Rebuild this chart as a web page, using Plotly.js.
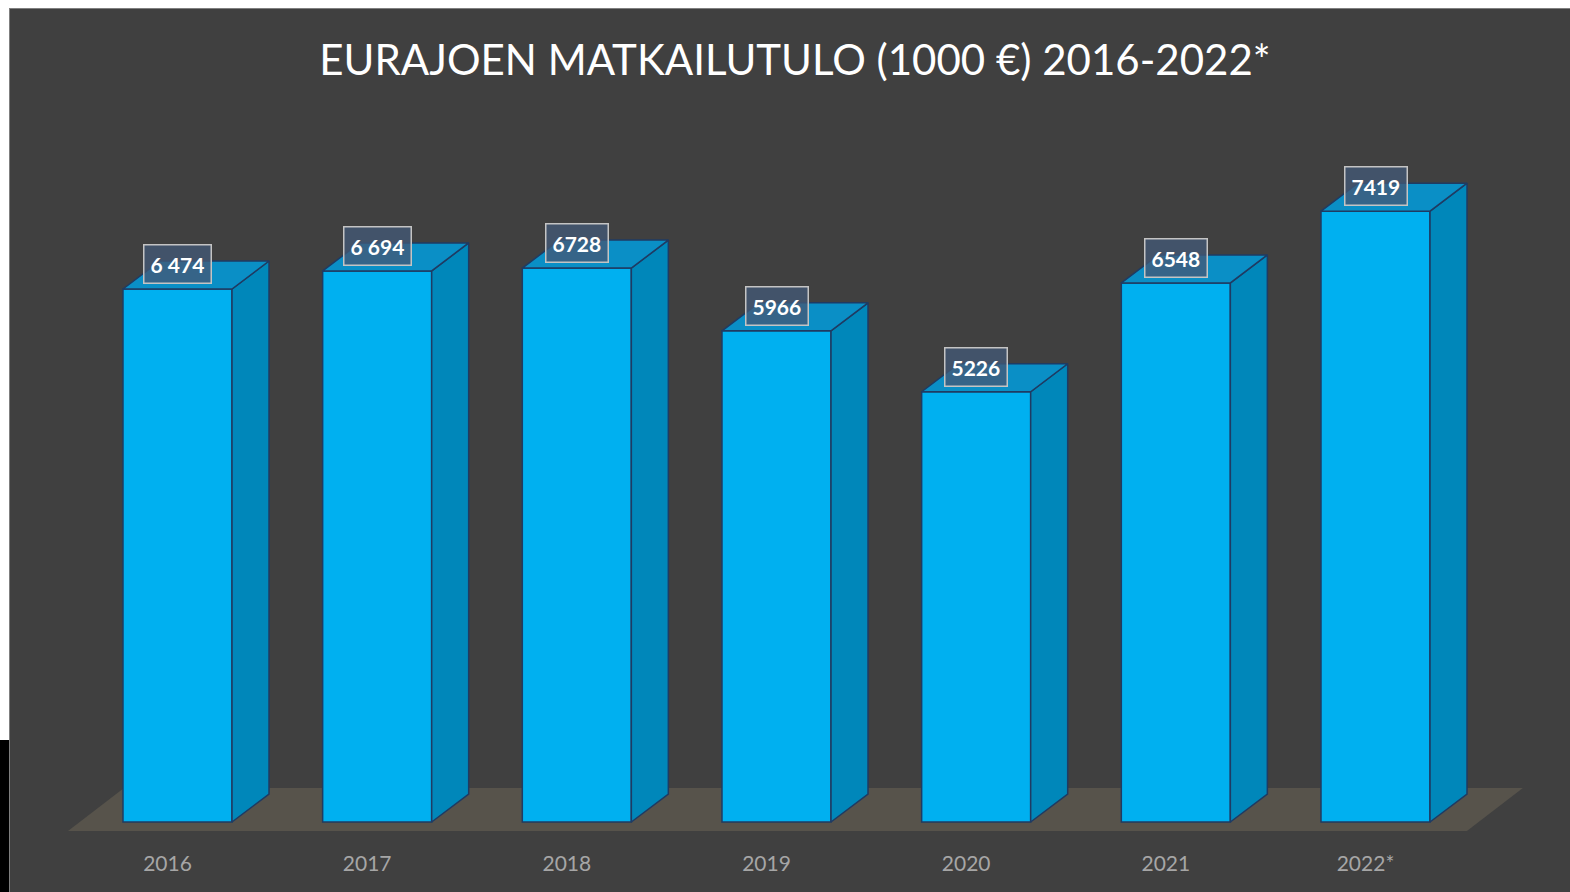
<!DOCTYPE html>
<html>
<head>
<meta charset="utf-8">
<script src="https://cdn.plot.ly/plotly-3.0.1.min.js"></script>
<style>
  html, body { margin: 0; padding: 0; background: #ffffff; width: 1570px; height: 892px; overflow: hidden; }
  #panel { position: absolute; left: 9px; top: 8px; width: 1561px; height: 884px; box-sizing: border-box; border-left: 1.5px solid #7f7f7f; border-top: 1.5px solid #7f7f7f; background: #404040; }
  #chart { position: absolute; left: 9px; top: 8px; width: 1561px; height: 884px; }
  #blackbar { position: absolute; left: 0; top: 740px; width: 9px; height: 152px; background: #000; }
</style>
</head>
<body>
<div id="blackbar"></div>
<div id="panel"></div>
<div id="chart"></div>
<script>
// ---- data ----
const years = ["2016", "2017", "2018", "2019", "2020", "2021", "2022*"];
const values = [6474, 6694, 6728, 5966, 5226, 6548, 7419];
const labelText = ["6 474", "6 694", "6728", "5966", "5226", "6548", "7419"];

// ---- style constants ----
const idx = years.map((_, i) => i);
const barW = 0.546;      // front face width (category units)
const depthX = 0.1853;   // 3D depth offset in x (category units)
const depthY = 340;      // 3D depth offset in y (value units)
const frontColor = "#00b0f0";
const sideColor = "#0087ba";
const topColor = "#0a8fc6";
const edgeColor = "#1f3b63";

const traces = [];

// front faces
traces.push({
  type: "bar",
  x: idx,
  y: values,
  width: barW,
  marker: { color: frontColor, line: { color: edgeColor, width: 1.5 } },
  hoverinfo: "skip",
  showlegend: false
});

// side and top faces, derived from the values
idx.forEach((i, k) => {
  const v = values[k];
  const r = i + barW / 2, l = i - barW / 2;
  traces.push({
    type: "scatter", mode: "lines", fill: "toself",
    x: [r, r + depthX, r + depthX, r, r],
    y: [0, depthY, v + depthY, v, 0],
    fillcolor: sideColor, line: { color: edgeColor, width: 1.5 },
    hoverinfo: "skip", showlegend: false
  });
  traces.push({
    type: "scatter", mode: "lines", fill: "toself",
    x: [l, r, r + depthX, l + depthX, l],
    y: [v, v, v + depthY, v + depthY, v],
    fillcolor: topColor, line: { color: edgeColor, width: 1.5 },
    hoverinfo: "skip", showlegend: false
  });
});

const annotations = idx.map((i, k) => ({
  x: i, y: values[k], xref: "x", yref: "y",
  text: "<b>" + labelText[k] + "</b>",
  showarrow: false, yshift: 25,
  font: { family: "Lato, 'Open Sans', sans-serif", size: 21, color: "#ffffff" },
  bgcolor: "rgba(66,88,118,0.78)",
  bordercolor: "#c4c4c4", borderwidth: 1.5, borderpad: 6
}));

const layout = {
  width: 1561, height: 884,
  paper_bgcolor: "rgba(0,0,0,0)",
  plot_bgcolor: "rgba(0,0,0,0)",
  margin: { l: 11, r: 10, t: 92, b: 52 },
  title: {
    text: "EURAJOEN MATKAILUTULO (1000 €) 2016-2022*",
    font: { family: "Lato, 'Open Sans', sans-serif", size: 42, color: "#ffffff" },
    x: 0.5035, xanchor: "center", y: 0.941, yanchor: "middle", yref: "container"
  },
  xaxis: {
    range: [-0.7888, 6.924],
    tickvals: idx.map(i => i - 0.05),
    ticktext: years,
    tickfont: { family: "Lato, 'Open Sans', sans-serif", size: 21, color: "#a6a6a6" },
    ticklabelstandoff: 9,
    showgrid: false, zeroline: false, showline: false, ticks: "",
    fixedrange: true
  },
  yaxis: {
    range: [-218.6, 8769.6],
    visible: false, showgrid: false, zeroline: false,
    fixedrange: true
  },
  shapes: [{
    type: "path", xref: "x", yref: "y", layer: "below",
    path: "M -0.5484,-109.3 L 6.4577,-109.3 L 6.7381,413 L -0.268,413 Z",
    fillcolor: "#57534b", line: { width: 0 }
  }],
  annotations: annotations,
  showlegend: false
};

Plotly.newPlot("chart", traces, layout, { displayModeBar: false, staticPlot: true });
</script>
</body>
</html>
